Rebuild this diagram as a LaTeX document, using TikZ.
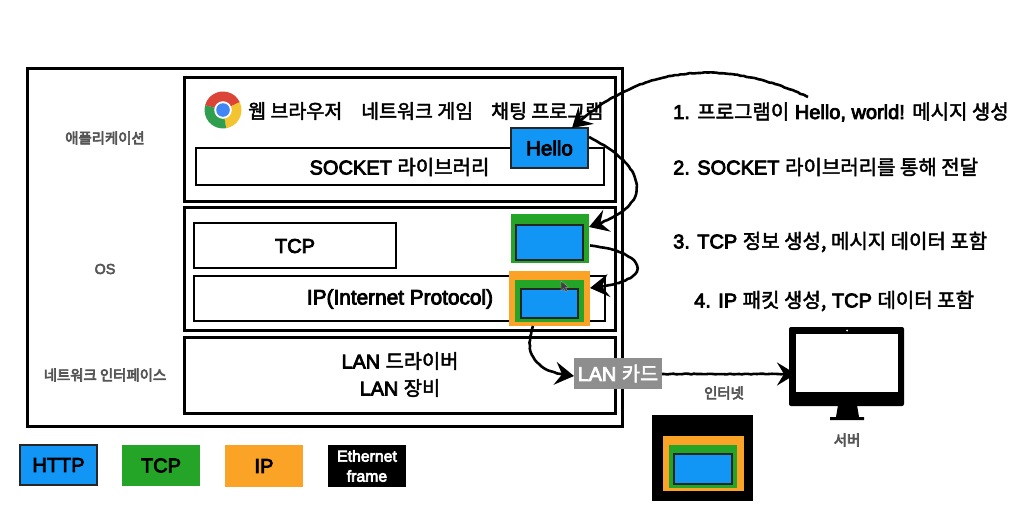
\documentclass[tikz,border=0pt]{standalone}
\usepackage{fontspec}
\setmainfont{Liberation Sans}[FakeBold=4]
\newfontfamily\kr{Noto Sans CJK KR}[FakeBold=2.2]
\newfontfamily\krb{Noto Sans CJK KR}[FakeBold=4.5]
\usetikzlibrary{arrows.meta,decorations.pathmorphing}
\definecolor{httpblue}{HTML}{1296F5}
\definecolor{tcpgreen}{HTML}{25A527}
\definecolor{iporange}{HTML}{FBA326}
\definecolor{cardgrey}{HTML}{8E8E8E}
\definecolor{labelgrey}{HTML}{555555}
\definecolor{chromered}{HTML}{DB4437}
\definecolor{chromeyellow}{HTML}{F4C430}
\definecolor{chromegreen}{HTML}{2F9E4F}
\definecolor{chromeblue}{HTML}{4285F4}
\newcommand{\pbox}[7][]{%
  \pgfmathsetmacro{\pbw}{#5-#3}\pgfmathsetmacro{\pbh}{#6-#4}%
  \pgfmathsetmacro{\pbx}{(#3+#5)/2}\pgfmathsetmacro{\pby}{(#4+#6)/2}%
  \node[inner sep=0pt,outer sep=0pt,align=center,minimum width=\pbw pt,minimum height=\pbh pt,#1] (#2) at (\pbx,\pby) {#7};}
\tikzset{
  frame/.style={draw=black,line width=3pt},
  thinbox/.style={draw=black!85,line width=1.2pt},
  handarrow/.style={draw=black,line width=2.6pt,decorate,decoration={random steps,segment length=3pt,amplitude=0.4pt,pre length=2pt,post length=12pt},-{Stealth[length=19pt,width=23pt,inset=7pt]}},
  grouplabel/.style={font=\krb\fontsize{14.4}{17}\selectfont,text=labelgrey,inner sep=0pt},
  stepnote/.style={font=\fontsize{20}{23}\selectfont,anchor=west,inner sep=0pt},
  inner/.style={font=\fontsize{20}{24}\selectfont},
  apptext/.style={font=\kr\fontsize{19.5}{23}\selectfont,inner sep=0pt,anchor=west},
}
\begin{document}
\begin{tikzpicture}[x=1pt,y=-1pt]
\useasboundingbox (0,0) rectangle (1027,522);
\pbox[frame]{outer}{27}{68}{622}{426}{}
\pbox[frame]{app}{184}{77}{615}{201}{}
\pbox[frame]{os}{184}{207}{615}{330}{}
\pbox[frame]{nic}{184}{337}{615}{413}{}
\node[grouplabel] (lapp) at (105,138) {애플리케이션};
\node[grouplabel,font=\fontsize{14.4}{17}\selectfont] (los) at (105,269) {OS};
\node[grouplabel] (lnic) at (105,375) {네트워크 인터페이스};
% chrome logo
\begin{scope}[shift={(223,110)},x=1pt,y=1pt]
\fill[chromered] (0,0) -- (165:18.5) arc[start angle=165,end angle=25,radius=18.5] -- cycle;
\fill[chromeyellow] (0,0) -- (25:18.5) arc[start angle=25,end angle=-80,radius=18.5] -- cycle;
\fill[chromegreen] (0,0) -- (-80:18.5) arc[start angle=-80,end angle=-195,radius=18.5] -- cycle;
\fill[white] (0,0) circle[radius=8.8];
\fill[chromeblue] (0,0) circle[radius=6.8];
\end{scope}
\node[apptext] (web) at (248,111) {웹 브라우저};
\node[apptext] (game) at (361,111) {네트워크 게임};
\node[apptext] (chat) at (491,111) {채팅 프로그램};
\pbox[frame,line width=2.6pt]{socket}{196}{148}{604}{185}{}
\node[inner,inner sep=0pt] (socketlabel) at (399.5,167) {SOCKET {\kr 라이브러리}};
\pbox[thinbox,fill=httpblue,font=\fontsize{20.5}{24}\selectfont]{hello}{511}{128}{588}{168}{Hello}
\pbox[frame,line width=2.6pt,inner]{tcp}{194}{223}{396}{268}{}
\node[inner,inner sep=0pt] (tcplabel) at (295,246) {TCP};
\pbox[frame,line width=2.6pt]{ip}{194}{276}{605}{321}{}
\node[inner,inner sep=0pt,font=\fontsize{20.8}{24}\selectfont] (iplabel) at (400,299) {IP(Internet Protocol)};
\pbox[fill=tcpgreen]{tcpseg}{511}{214}{589}{263}{}
\pbox[thinbox,fill=httpblue]{tcpdata}{516}{225}{583}{260}{}
\pbox[fill=iporange]{ippkt}{509}{271}{590}{326}{}
\pbox[fill=tcpgreen]{ipseg}{515}{280}{584}{322}{}
\pbox[thinbox,fill=httpblue]{ipdata}{521}{289}{578}{318}{}
\fill[black!75,draw=white!70!black,line width=.3pt] (561,281) -- (561,291) -- (563.5,288.5) -- (566,292) -- (567.5,291) -- (565.5,287.5) -- (568.5,287) -- cycle;
\node[inner,inner sep=0pt,align=center,font=\fontsize{19.8}{27}\selectfont] (lan) at (400,374.5) {LAN {\kr 드라이버}\\LAN {\kr 장비}};
\pbox[fill=cardgrey,text=white,font=\fontsize{19.8}{24}\selectfont]{card}{574}{358}{662}{389}{LAN {\kr 카드}}
% server
\fill[black,rounded corners=2pt] (789,327) rectangle (904,406);
\node[fill=white,inner sep=0pt,outer sep=0pt,minimum width=102pt,minimum height=58pt] (server) at (847,363) {};
\fill[white] (847,330.5) circle[radius=1];
\fill[black] (838,405) -- (857,405) -- (859,417) -- (864,417) -- (864,420) -- (830,420) -- (830,417) -- (836,417) -- cycle;
\node[grouplabel] (serverlabel) at (847,440) {서버};
\node[grouplabel] (net) at (724,393) {인터넷};
% stack
\pbox[fill=black]{frameA}{652}{415}{753}{501}{}
\pbox[fill=iporange]{frameB}{663}{436}{744}{491}{}
\pbox[fill=tcpgreen]{frameC}{669}{445}{737}{488}{}
\pbox[thinbox,fill=httpblue]{frameD}{674}{454}{732}{484}{}
% legend
\pbox[thinbox,fill=httpblue,inner]{lhttp}{20}{445}{97}{485}{HTTP}
\pbox[fill=tcpgreen,inner]{ltcp}{122}{445}{200}{486}{TCP}
\pbox[fill=iporange,inner]{lip}{225}{445}{303}{487}{IP}
\pbox[fill=black,text=white,font=\fontsize{15.8}{20}\selectfont]{leth}{328}{445}{406}{487}{Ethernet\\frame}
% notes
\node[stepnote] (n1) at (673,112) {1. {\kr 프로그램이} Hello, world! {\kr 메시지 생성}};
\node[stepnote] (n2) at (673,167) {2. SOCKET {\kr 라이브러리를 통해 전달}};
\node[stepnote] (n3) at (673,242) {3. TCP {\kr 정보 생성, 메시지 데이터 포함}};
\node[stepnote] (n4) at (694,301) {4. IP {\kr 패킷 생성,} TCP {\kr 데이터 포함}};
% connectors
\coordinate (start) at (808,97);
\draw[handarrow] (start) .. controls (740,65) and (650,55) .. (hello.north -| 572,128);
\draw[handarrow] (hello.east) ++(1,-11) .. controls (645,165) and (660,205) .. (tcpseg.east |- 0,227);
\draw[handarrow] (tcpseg.east) ++(1,7) .. controls (640,250) and (665,280) .. (ippkt.east |- 0,288);
\draw[handarrow] (ippkt.south -| 533,326) .. controls (525,350) and (530,372) .. (card.west |- 0,376);
\draw[handarrow] (card.east |- 0,374) -- (server.west |- 0,374);
\end{tikzpicture}
\end{document}
